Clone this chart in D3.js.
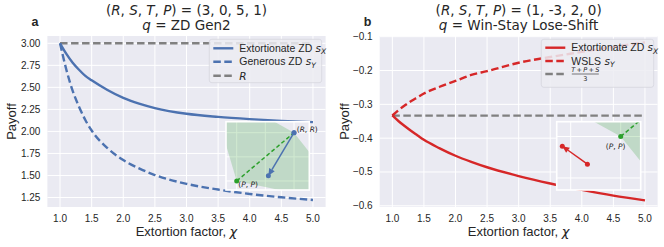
<!DOCTYPE html>
<html><head><meta charset="utf-8">
<script src="https://cdn.jsdelivr.net/npm/d3@7"></script>
<style>body{margin:0;background:#fff} svg{font-family:"Liberation Sans",Arial,sans-serif} text{fill:#262626}</style>
</head><body><svg id="c" width="664" height="247"></svg>
<script>
// ---------- data ----------
const chiA = [1.0, 1.1, 1.2, 1.3, 1.4, 1.5, 1.75, 2.0, 2.25, 2.5, 3.0, 3.5, 4.0, 4.5, 5.0];
const extortXA = [3.00, 2.88, 2.78, 2.70, 2.63, 2.58, 2.47, 2.38, 2.315, 2.265, 2.20, 2.165, 2.14, 2.12, 2.105];
const generousYA = [3.00, 2.70, 2.46, 2.28, 2.13, 2.01, 1.81, 1.675, 1.58, 1.505, 1.405, 1.34, 1.29, 1.252, 1.222];
const chiB = [1.0, 1.1, 1.2, 1.3, 1.4, 1.5, 1.75, 2.0, 2.25, 2.5, 3.0, 3.5, 4.0, 4.5, 5.0];
const extortXB = [-0.333, -0.350, -0.365, -0.379, -0.392, -0.405, -0.430, -0.452, -0.470, -0.486, -0.512, -0.534, -0.553, -0.570, -0.584];
const wslsYB = [-0.333, -0.317, -0.303, -0.290, -0.279, -0.268, -0.248, -0.231, -0.213, -0.202, -0.177, -0.160, -0.145, -0.130, -0.117];
const gameA = [3, 0, 5, 1];   // R, S, T, P
const gameB = [1, -3, 2, 0];
const xTicks = [1.0, 1.5, 2.0, 2.5, 3.0, 3.5, 4.0, 4.5, 5.0];
const yTicksA = [1.25, 1.50, 1.75, 2.00, 2.25, 2.50, 2.75, 3.00];
const yTicksB = [-0.6, -0.5, -0.4, -0.3, -0.2, -0.1];
const insetTicksA = [1, 2, 3];
const insetTicksB = [-0.5, 0];

// ---------- drawing ----------
const svg = d3.select("#c");
const BG = "#eaeaf2", BLUE = "#4c72b0", RED = "#d62728", GREEN = "#2ca02c", GREY = "#808080";
const DJ = "DejaVu Sans";

function mathText(sel, segs) {
  segs.forEach(([t, it]) => {
    const ts = sel.append("tspan").text(t);
    if (it) ts.attr("font-style", "italic").attr("font-family", DJ);
  });
}

function panel(o) {
  const g = svg.append("g");
  const x = d3.scaleLinear().domain([0.8, 5.2]).range([o.x0, o.x1]);
  const y = d3.scaleLinear().domain(o.yDom).range([207, 36]);
  g.append("rect").attr("x", o.x0).attr("y", 36).attr("width", o.x1 - o.x0).attr("height", 171).attr("fill", BG);
  g.selectAll(".gx").data(xTicks).join("line").attr("x1", d => x(d)).attr("x2", d => x(d))
    .attr("y1", 36).attr("y2", 207).attr("stroke", "#fff").attr("stroke-width", 1);
  g.selectAll(".gy").data(o.yTicks).join("line").attr("y1", d => y(d)).attr("y2", d => y(d))
    .attr("x1", o.x0).attr("x2", o.x1).attr("stroke", "#fff").attr("stroke-width", 1);
  g.selectAll(".tx").data(xTicks).join("text").attr("x", d => x(d)).attr("y", 222)
    .attr("text-anchor", "middle").attr("font-size", 10).text(d3.format(".1f"));
  g.selectAll(".ty").data(o.yTicks).join("text").attr("x", o.x0 - 7).attr("y", d => y(d) + 3.5)
    .attr("text-anchor", "end").attr("font-size", 10).text(d3.format(o.yFmt));
  const xl = g.append("text").attr("x", (o.x0 + o.x1) / 2).attr("y", 236).attr("text-anchor", "middle").attr("font-size", 13);
  xl.append("tspan").text("Extortion factor, ");
  xl.append("tspan").text("χ").attr("font-style", "italic").attr("font-family", DJ);
  g.append("text").attr("transform", `translate(${o.x0 - 31},121.5) rotate(-90)`).attr("text-anchor", "middle")
    .attr("font-size", 13).text("Payoff");
  const t1 = g.append("text").attr("x", (o.x0 + o.x1) / 2).attr("y", 14.5).attr("text-anchor", "middle")
    .attr("font-size", 13.5).attr("font-family", DJ);
  const gm = o.game;
  mathText(t1, [["("], ["R", 1], [", "], ["S", 1], [", "], ["T", 1], [", "], ["P", 1], [") = (" + gm.join(", ") + ")"]]);
  const t2 = g.append("text").attr("x", (o.x0 + o.x1) / 2).attr("y", 29.5).attr("text-anchor", "middle")
    .attr("font-size", 13.5).attr("font-family", DJ);
  mathText(t2, [["q", 1], [" = " + o.qName]]);
  g.append("text").attr("x", o.x0 - 16).attr("y", 25.5).attr("font-weight", "bold").attr("font-size", 12.5).text(o.letter);

  g.append("line").attr("x1", x(1)).attr("x2", x(5)).attr("y1", y(o.ref)).attr("y2", y(o.ref))
    .attr("stroke", GREY).attr("stroke-width", 2.4).attr("stroke-dasharray", "7.5,3.5");
  const line = d3.line().x(d => x(d[0])).y(d => y(d[1])).curve(d3.curveMonotoneX);
  g.append("path").attr("d", line(d3.zip(o.chi, o.sY))).attr("fill", "none").attr("stroke", o.color)
    .attr("stroke-width", 2.4).attr("stroke-dasharray", "7.5,3.5");
  g.append("path").attr("d", line(d3.zip(o.chi, o.sX))).attr("fill", "none").attr("stroke", o.color)
    .attr("stroke-width", 2.4);

  // inset
  const ib = o.inset;
  const ix = d3.scaleLinear().domain(ib.xd).range([ib.x0, ib.x1]);
  const iy = d3.scaleLinear().domain(ib.yd).range([ib.y1, ib.y0]);
  const cid = "clip" + o.letter;
  svg.append("defs").append("clipPath").attr("id", cid).append("rect")
    .attr("x", ib.x0).attr("y", ib.y0).attr("width", ib.x1 - ib.x0).attr("height", ib.y1 - ib.y0);
  const ig = g.append("g");
  ig.append("rect").attr("x", ib.x0).attr("y", ib.y0).attr("width", ib.x1 - ib.x0).attr("height", ib.y1 - ib.y0).attr("fill", BG);
  const cg = ig.append("g").attr("clip-path", `url(#${cid})`);
  cg.selectAll(".igx").data(ib.ticks).join("line").attr("x1", d => ix(d)).attr("x2", d => ix(d))
    .attr("y1", ib.y0).attr("y2", ib.y1).attr("stroke", "#fff").attr("stroke-width", 1);
  cg.selectAll(".igy").data(ib.ticks).join("line").attr("y1", d => iy(d)).attr("y2", d => iy(d))
    .attr("x1", ib.x0).attr("x2", ib.x1).attr("stroke", "#fff").attr("stroke-width", 1);
  const [R, S, T, P] = gm;
  const poly = [[P, P], [T, S], [R, R], [S, T]];
  cg.append("path").attr("d", "M" + poly.map(p => [ix(p[0]), iy(p[1])].join(",")).join("L") + "Z")
    .attr("fill", GREEN).attr("fill-opacity", 0.22);
  cg.append("line").attr("x1", ix(P)).attr("y1", iy(P)).attr("x2", ix(R)).attr("y2", iy(R))
    .attr("stroke", GREEN).attr("stroke-width", 1.5).attr("stroke-dasharray", "4,2.5");
  ig.append("rect").attr("x", ib.x0).attr("y", ib.y0).attr("width", ib.x1 - ib.x0).attr("height", ib.y1 - ib.y0)
    .attr("fill", "none").attr("stroke", "#fff").attr("stroke-width", 1.6);
  ig.append("circle").attr("cx", ix(P)).attr("cy", iy(P)).attr("r", 2.5).attr("fill", GREEN);
  ig.append("circle").attr("cx", ix(R)).attr("cy", iy(R)).attr("r", 2.5).attr("fill", BLUE)
    .attr("display", (R >= ib.xd[0] && R <= ib.xd[1] && R >= ib.yd[0] && R <= ib.yd[1]) ? null : "none");
  const n = o.chi.length - 1;
  const ax0 = ix(o.sX[0]), ay0 = iy(o.sY[0]), ax1 = ix(o.sX[n]), ay1 = iy(o.sY[n]);
  const ang = Math.atan2(ay1 - ay0, ax1 - ax0), hl = 7, hw = 3.2;
  const bx = ax1 - hl * Math.cos(ang), by = ay1 - hl * Math.sin(ang);
  ig.append("line").attr("x1", ax0).attr("y1", ay0).attr("x2", bx).attr("y2", by).attr("stroke", o.color).attr("stroke-width", 1.5);
  ig.append("path").attr("d", `M${ax1},${ay1}L${bx - hw * Math.sin(ang)},${by + hw * Math.cos(ang)}L${bx + hw * Math.sin(ang)},${by - hw * Math.cos(ang)}Z`)
    .attr("fill", o.color);
  ig.append("circle").attr("cx", ax0).attr("cy", ay0).attr("r", 2.5).attr("fill", o.color);
  ig.append("circle").attr("cx", ax1).attr("cy", ay1).attr("r", 2.5).attr("fill", o.color);
  ib.labels.forEach(l => {
    const pt = l.pt === "R" ? R : P;
    const tx = ig.append("text").attr("x", ix(pt) + l.dx).attr("y", iy(pt) + l.dy).attr("font-size", 7.5)
      .attr("text-anchor", l.anchor).attr("font-family", DJ).attr("fill", "#333");
    mathText(tx, [["("], [l.pt, 1], [", "], [l.pt, 1], [")"]]);
  });

  // legend
  const L = o.legend;
  g.append("rect").attr("x", L.x).attr("y", 39.3).attr("width", 112.4).attr("height", L.h).attr("rx", 2.5)
    .attr("fill", "#ececf2").attr("fill-opacity", 0.85).attr("stroke", "#d6d6de").attr("stroke-width", 0.8);
  L.rows.forEach((r, i) => {
    const yy = L.ys[i];
    g.append("line").attr("x1", L.x + 4).attr("x2", L.x + 24).attr("y1", yy).attr("y2", yy)
      .attr("stroke", r.c).attr("stroke-width", 2.4).attr("stroke-dasharray", r.dash ? "7.5,3.5" : null);
    if (r.frac) {
      g.append("text").attr("x", L.x + 44).attr("y", yy - 1.8).attr("text-anchor", "middle").attr("font-size", 6.5)
        .attr("font-family", DJ).attr("font-style", "italic").text("T\u2009+\u2009P\u2009+\u2009S");
      g.append("line").attr("x1", L.x + 30.5).attr("x2", L.x + 57.5).attr("y1", yy).attr("y2", yy).attr("stroke", "#262626").attr("stroke-width", 0.6);
      g.append("text").attr("x", L.x + 44).attr("y", yy + 7.2).attr("text-anchor", "middle").attr("font-size", 6.5)
        .attr("font-family", DJ).text("3");
    } else {
      const tx = g.append("text").attr("x", L.x + 30).attr("y", yy + 3.7).attr("font-size", 10.5);
      tx.append("tspan").text(r.t);
      if (r.s) {
        tx.append("tspan").text(" s").attr("font-style", "italic").attr("font-family", DJ);
        tx.append("tspan").text(r.s).attr("font-style", "italic").attr("font-family", DJ)
          .attr("font-size", 7.5).attr("dy", 2.2);
      }
      if (r.it) tx.append("tspan").text(r.it).attr("font-style", "italic").attr("font-family", DJ);
    }
  });
}

panel({
  letter: "a", x0: 47.4, x1: 325.6, yDom: [1.142, 3.083], yTicks: yTicksA, yFmt: ".2f",
  game: gameA, qName: "ZD Gen2", ref: gameA[0], color: BLUE,
  chi: chiA, sX: extortXA, sY: generousYA,
  inset: { x0: 226, x1: 309.3, y0: 121.7, y1: 190, xd: [0.6265, 3.534], yd: [0.627, 3.455], ticks: insetTicksA,
    labels: [{ pt: "R", dx: 2.7, dy: -0.5, anchor: "start" }, { pt: "P", dx: 1.6, dy: 5.8, anchor: "start" }] },
  legend: { x: 209.3, h: 43.4, ys: [48.3, 61.7, 75.8],
    rows: [{ t: "Extortionate ZD", s: "X", c: BLUE }, { t: "Generous ZD", s: "Y", c: BLUE, dash: 1 }, { t: "", it: "R", c: GREY, dash: 1 }] }
});
panel({
  letter: "b", x0: 379.7, x1: 657.6, yDom: [-0.6035, -0.098], yTicks: yTicksB, yFmt: ".1f",
  game: gameB, qName: "Win-Stay Lose-Shift", ref: (gameB[2] + gameB[3] + gameB[1]) / 3, color: RED,
  chi: chiB, sX: extortXB, sY: wslsYB,
  inset: { x0: 556.7, x1: 640.7, y0: 121.7, y1: 190, xd: [-0.64, 0.2], yd: [-0.6446, 0.178], ticks: insetTicksB,
    labels: [{ pt: "P", dx: -5, dy: 12.5, anchor: "middle" }] },
  legend: { x: 541.3, h: 48, ys: [47.7, 61, 74],
    rows: [{ t: "Extortionate ZD", s: "X", c: RED }, { t: "WSLS", s: "Y", c: RED, dash: 1 }, { frac: 1, c: GREY, dash: 1 }] }
});
</script></body></html>
